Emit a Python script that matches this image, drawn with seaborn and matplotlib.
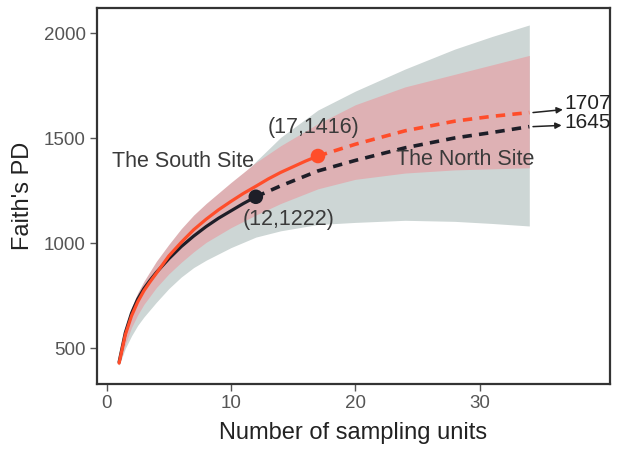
import seaborn as sns
import matplotlib.pyplot as plt
import pandas as pd

# ---- data ----
# North site: rarefied part (solid) and extrapolated part (dashed)
north_x = [1, 1.5, 2, 2.5, 3, 3.5, 4, 5, 6, 7, 8, 9, 10, 11, 12]
north_y = [435, 575, 668, 735, 785, 825, 862, 927, 985, 1035, 1080, 1120,
           1155, 1190, 1222]
north_ext_x = [12, 14, 17, 20, 24, 28, 31, 34]
north_ext_y = [1222, 1274, 1345, 1395, 1455, 1502, 1528, 1556]

# South site
south_x = [1, 1.5, 2, 2.5, 3, 3.5, 4, 5, 6, 7, 8, 9, 10, 11, 12, 13, 14,
           15, 16, 17]
south_y = [430, 565, 655, 722, 775, 818, 858, 940, 1005, 1065, 1115, 1160,
           1200, 1238, 1272, 1307, 1338, 1365, 1392, 1416]
south_ext_x = [17, 20, 24, 28, 31, 34]
south_ext_y = [1416, 1472, 1536, 1582, 1605, 1623]

# 95% confidence bands
band_x = [1, 1.5, 2, 2.5, 3, 4, 5, 6, 7, 8, 10, 12, 14, 17, 20, 24, 28, 31, 34]
north_lo = [420, 500, 560, 610, 650, 720, 785, 840, 885, 920, 980, 1030,
            1060, 1090, 1100, 1110, 1105, 1095, 1083]
north_hi = [450, 590, 680, 750, 805, 895, 970, 1040, 1100, 1160, 1270, 1390,
            1505, 1635, 1725, 1830, 1925, 1985, 2040]
south_lo = [420, 520, 600, 660, 710, 790, 855, 910, 960, 1005, 1075, 1135,
            1190, 1260, 1305, 1335, 1350, 1355, 1360]
south_hi = [445, 600, 695, 765, 820, 915, 995, 1070, 1135, 1190, 1290, 1385,
            1465, 1570, 1660, 1745, 1805, 1850, 1895]

end_points = {'north': (12, 1222), 'south': (17, 1416)}
asymptotes = {'south': 1707, 'north': 1645}

RED = '#FF4D2A'
BLACK = '#1E1E28'

sns.set_theme(style='white')
plt.rcParams['font.family'] = ['Liberation Sans', 'DejaVu Sans']

fig = plt.figure(figsize=(6.2, 4.53), dpi=100)
ax = fig.add_axes([0.156, 0.152, 0.828, 0.830])

# confidence bands
ax.fill_between(band_x, north_lo, north_hi, color='#CDD6D5', lw=0)
ax.fill_between(band_x, south_lo, south_hi, color='#DEB1B4', lw=0)

# curves
sns.lineplot(x=north_x, y=north_y, color=BLACK, lw=2.3, ax=ax)
sns.lineplot(x=south_x, y=south_y, color=RED, lw=2.3, ax=ax)
sns.lineplot(x=north_ext_x, y=north_ext_y, color=BLACK, lw=2.6,
             linestyle=(0, (2.6, 2.0)), ax=ax)
sns.lineplot(x=south_ext_x, y=south_ext_y, color=RED, lw=2.6,
             linestyle=(0, (2.6, 2.0)), ax=ax)

pts = pd.DataFrame({'x': [end_points['north'][0], end_points['south'][0]],
                    'y': [end_points['north'][1], end_points['south'][1]],
                    'site': ['north', 'south']})
sns.scatterplot(data=pts, x='x', y='y', hue='site',
                palette={'north': BLACK, 'south': RED},
                s=110, linewidth=0, legend=False, ax=ax, zorder=5)

# annotations
txt = dict(fontsize=15.5, color='#3A3A3A')
ax.text(0.4, 1389, 'The South Site', ha='left', va='center', **txt)
ax.text(23.3, 1398, 'The North Site', ha='left', va='center', **txt)
ax.text(16.6, 1551, '(%d,%d)' % end_points['south'], ha='center', va='center', **txt)
ax.text(14.6, 1112, '(%d,%d)' % end_points['north'], ha='center', va='center', **txt)

arrow = dict(arrowstyle='-|>', color='#222222', lw=1.1, mutation_scale=9,
             shrinkA=0, shrinkB=0)
ax.annotate('', xy=(36.7, 1637), xytext=(34.3, south_ext_y[-1]), arrowprops=arrow)
ax.annotate('', xy=(36.6, 1562), xytext=(34.3, north_ext_y[-1]), arrowprops=arrow)
ax.text(36.8, 1666, str(asymptotes['south']), ha='left', va='center',
        fontsize=15, color='#222222')
ax.text(36.8, 1575, str(asymptotes['north']), ha='left', va='center',
        fontsize=15, color='#222222')

# axes format
ax.set_xlim(-0.8, 40.5)
ax.set_ylim(330, 2120)
ax.set_xticks([0, 10, 20, 30])
ax.set_yticks([500, 1000, 1500, 2000])
ax.set_xlabel('Number of sampling units', fontsize=17, color='#222222', labelpad=7)
ax.set_ylabel("Faith's PD", fontsize=17, color='#222222', labelpad=7)
for sp in ax.spines.values():
    sp.set_visible(True)
    sp.set_color('#333333')
    sp.set_linewidth(1.6)
ax.tick_params(axis='both', which='both', direction='out', length=5, width=1,
               color='#555555', labelsize=13.5, labelcolor='#555555', pad=3,
               bottom=True, left=True)

fig.savefig('out.png', dpi=100)
